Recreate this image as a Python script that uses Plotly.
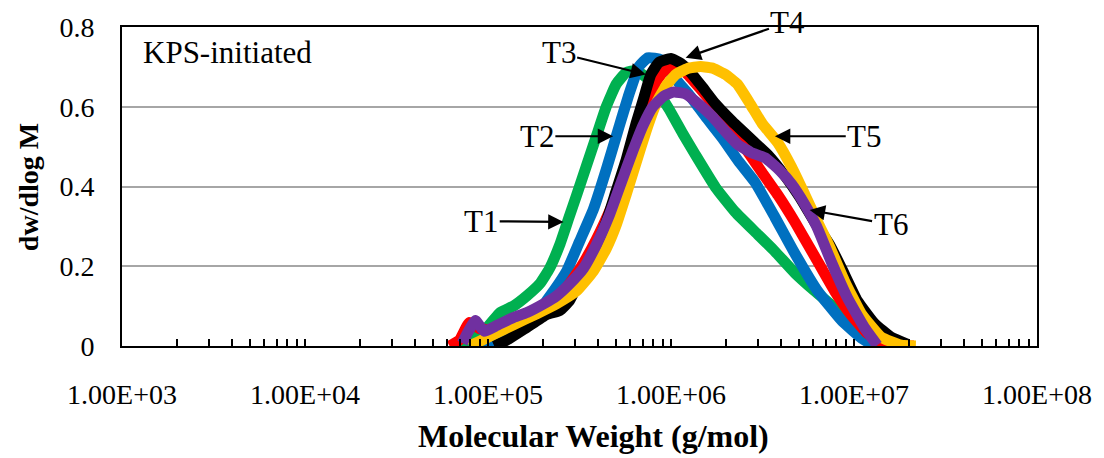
import plotly.graph_objects as go

# Molecular weight distributions (log10 of M in g/mol, and dw/dlog M) per sample
t1_logm = [4.844, 4.887, 4.941, 4.996, 5.066, 5.142, 5.213, 5.283, 5.337, 5.392, 5.440, 5.484,
           5.538, 5.592, 5.646, 5.701, 5.755, 5.809, 5.863, 5.918, 5.988, 6.064, 6.134, 6.243,
           6.351, 6.476, 6.568, 6.677, 6.785, 6.894, 7.002, 7.073, 7.138]
t1_w = [0.0, 0.015, 0.032, 0.047, 0.084, 0.101, 0.126, 0.156, 0.195, 0.254, 0.319, 0.378,
        0.452, 0.526, 0.600, 0.657, 0.686, 0.691, 0.674, 0.644, 0.595, 0.533, 0.479, 0.398,
        0.336, 0.279, 0.237, 0.183, 0.138, 0.096, 0.052, 0.015, 0.0]

t2_logm = [4.969, 5.007, 5.077, 5.142, 5.213, 5.267, 5.321, 5.359, 5.430, 5.500, 5.576, 5.646,
           5.717, 5.771, 5.825, 5.874, 5.945, 6.010, 6.096, 6.189, 6.281, 6.368, 6.460, 6.568,
           6.677, 6.801, 6.932, 7.040, 7.111]
t2_w = [0.0, 0.005, 0.020, 0.044, 0.069, 0.081, 0.114, 0.138, 0.188, 0.262, 0.343, 0.442,
        0.551, 0.632, 0.701, 0.723, 0.718, 0.677, 0.632, 0.575, 0.521, 0.464, 0.410, 0.323,
        0.232, 0.138, 0.064, 0.020, 0.0]

t3_logm = [4.790, 4.844, 4.898, 4.952, 5.023, 5.104, 5.185, 5.267, 5.348, 5.430, 5.511, 5.592,
           5.674, 5.739, 5.793, 5.836, 5.874, 5.918, 5.961, 6.015, 6.080, 6.162, 6.243, 6.324,
           6.406, 6.498, 6.585, 6.677, 6.785, 6.894, 6.986, 7.073, 7.165, 7.246, 7.328]
t3_w = [0.0, 0.015, 0.059, 0.044, 0.040, 0.049, 0.064, 0.084, 0.109, 0.146, 0.200, 0.267,
        0.348, 0.422, 0.489, 0.553, 0.607, 0.662, 0.689, 0.699, 0.686, 0.644, 0.600, 0.553,
        0.496, 0.435, 0.378, 0.311, 0.225, 0.138, 0.077, 0.032, 0.007, 0.0, 0.0]

t4_logm = [5.034, 5.104, 5.213, 5.321, 5.392, 5.446, 5.500, 5.576, 5.646, 5.701, 5.755, 5.809,
           5.853, 5.890, 5.934, 5.999, 6.053, 6.107, 6.172, 6.243, 6.335, 6.444, 6.530, 6.622,
           6.704, 6.785, 6.867, 6.932, 7.018, 7.111, 7.203, 7.290]
t4_w = [0.0, 0.015, 0.047, 0.079, 0.089, 0.114, 0.163, 0.230, 0.311, 0.390, 0.467, 0.558,
        0.625, 0.681, 0.711, 0.721, 0.709, 0.686, 0.649, 0.607, 0.563, 0.516, 0.479, 0.427,
        0.373, 0.311, 0.254, 0.195, 0.114, 0.057, 0.022, 0.005]

t5_logm = [4.898, 4.969, 5.034, 5.142, 5.267, 5.375, 5.484, 5.576, 5.646, 5.701, 5.755, 5.809,
           5.863, 5.918, 5.972, 6.026, 6.091, 6.162, 6.232, 6.297, 6.362, 6.433, 6.498, 6.585,
           6.661, 6.731, 6.801, 6.867, 6.948, 7.040, 7.149, 7.257, 7.338]
t5_w = [0.0, 0.015, 0.030, 0.054, 0.081, 0.106, 0.138, 0.188, 0.244, 0.304, 0.380, 0.459,
        0.538, 0.607, 0.652, 0.681, 0.696, 0.701, 0.696, 0.681, 0.657, 0.607, 0.558, 0.509,
        0.447, 0.380, 0.311, 0.249, 0.163, 0.081, 0.022, 0.002, 0.0]

t6_logm = [4.860, 4.887, 4.931, 4.979, 5.050, 5.142, 5.213, 5.305, 5.375, 5.446, 5.522, 5.592,
           5.663, 5.728, 5.793, 5.847, 5.901, 5.961, 6.015, 6.080, 6.151, 6.227, 6.297, 6.368,
           6.444, 6.514, 6.595, 6.661, 6.731, 6.796, 6.877, 6.964, 7.056, 7.127]
t6_w = [0.007, 0.032, 0.064, 0.037, 0.052, 0.072, 0.084, 0.106, 0.126, 0.156, 0.195, 0.254,
        0.328, 0.410, 0.491, 0.553, 0.600, 0.627, 0.637, 0.632, 0.607, 0.575, 0.538, 0.504,
        0.484, 0.472, 0.440, 0.405, 0.355, 0.300, 0.210, 0.121, 0.047, 0.002]

series = [
    ("T1", t1_logm, t1_w, "#00B050"),
    ("T2", t2_logm, t2_w, "#0070C0"),
    ("T3", t3_logm, t3_w, "#FF0000"),
    ("T4", t4_logm, t4_w, "#000000"),
    ("T5", t5_logm, t5_w, "#FFC000"),
    ("T6", t6_logm, t6_w, "#7030A0"),
]

x_tick_vals = [1e3, 1e4, 1e5, 1e6, 1e7, 1e8]
x_tick_text = ["1.00E+03", "1.00E+04", "1.00E+05", "1.00E+06", "1.00E+07", "1.00E+08"]
y_tick_vals = [0, 0.2, 0.4, 0.6, 0.8]
y_tick_text = ["0", "0.2", "0.4", "0.6", "0.8"]

# Label placement: (name, arrow tip log10 M, tip y, text log10 M, text y)
labels = [
    ("T1", 5.413, 0.311, 4.963, 0.313),
    ("T2", 5.684, 0.526, 5.267, 0.526),
    ("T3", 5.863, 0.681, 5.386, 0.735),
    ("T4", 6.080, 0.723, 6.639, 0.812),
    ("T5", 6.568, 0.526, 7.056, 0.526),
    ("T6", 6.758, 0.341, 7.200, 0.305),
]

FONT = "Liberation Serif, Times New Roman, serif"

fig = go.Figure()
for name, logm, w, color in series:
    fig.add_trace(go.Scatter(
        x=[10 ** v for v in logm], y=w, mode="lines", name=name,
        line=dict(color=color, width=11, shape="spline", smoothing=0.4),
        showlegend=False,
    ))

annotations = []
for name, tx, ty, lx, ly in labels:
    annotations.append(dict(
        x=tx, y=ty, xref="x", yref="y", ax=lx, ay=ly, axref="x", ayref="y",
        text=name, showarrow=True, arrowhead=2, arrowsize=1.4, arrowwidth=2.2,
        arrowcolor="black", font=dict(family=FONT, size=31, color="black"),
    ))

annotations.append(dict(
    x=0.021, y=0.92, xref="paper", yref="paper", xanchor="left", yanchor="middle",
    text="KPS-initiated", showarrow=False, font=dict(family=FONT, size=31, color="black"),
))
annotations.append(dict(
    x=0.515, y=-0.281, xref="paper", yref="paper", xanchor="center", yanchor="middle",
    text="<b>Molecular Weight (g/mol)</b>", showarrow=False,
    font=dict(family=FONT, size=32, color="black"),
))
annotations.append(dict(
    x=-0.102, y=0.497, xref="paper", yref="paper", xanchor="center", yanchor="middle",
    text="<b>dw/dlog M</b>", showarrow=False, textangle=-90,
    font=dict(family=FONT, size=28, color="black"),
))

fig.update_layout(
    width=1104, height=458,
    margin=dict(l=122, r=60, t=22, b=112),
    paper_bgcolor="white", plot_bgcolor="white",
    font=dict(family=FONT, size=28, color="black"),
    annotations=annotations,
)

fig.update_xaxes(
    type="log", range=[3, 8],
    tickvals=x_tick_vals, ticktext=x_tick_text,
    ticks="inside", ticklen=7, tickwidth=1.5, tickcolor="black",
    minor=dict(ticks="inside", ticklen=7, tickwidth=1.5, tickcolor="black", dtick="D1", showgrid=False),
    showgrid=False, zeroline=False,
    showline=True, linecolor="black", linewidth=2, mirror=True,
    ticklabelstandoff=22,
    tickfont=dict(family=FONT, size=28, color="black"),
)
fig.update_yaxes(
    range=[0, 0.8], tickvals=y_tick_vals, ticktext=y_tick_text,
    ticks="", showgrid=True, gridcolor="#A6A6A6", gridwidth=2, zeroline=False,
    showline=True, linecolor="black", linewidth=2, mirror=True,
    ticklabelstandoff=20,
    tickfont=dict(family=FONT, size=28, color="black"),
)

fig.write_html("out.html")
